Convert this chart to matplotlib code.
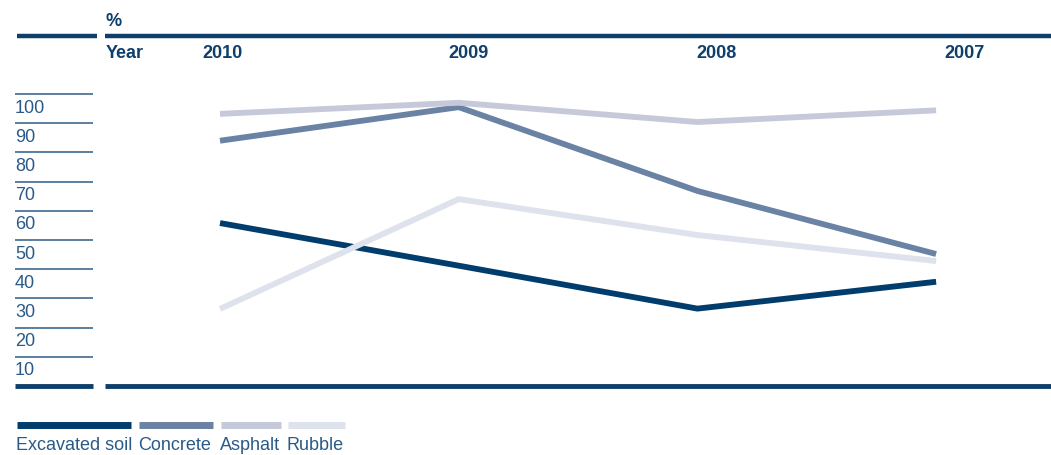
import matplotlib

matplotlib.use("Agg")
import matplotlib.pyplot as plt

# data
years = ["2010", "2009", "2008", "2007"]
excavated_soil = [55.8, 41.2, 26.5, 35.7]
concrete = [84.0, 95.5, 66.8, 45.2]
asphalt = [93.2, 97.0, 90.4, 94.4]
rubble = [26.4, 64.0, 51.7, 42.8]
y_ticks = [10, 20, 30, 40, 50, 60, 70, 80, 90, 100]

series = [
    ("Excavated soil", excavated_soil, "#003c6c"),
    ("Concrete", concrete, "#6a82a3"),
    ("Asphalt", asphalt, "#c5c9d9"),
    ("Rubble", rubble, "#dde2ec"),
]
NAVY = "#0e3f6b"
plt.rcParams["font.family"] = ["Liberation Sans", "DejaVu Sans"]

W, H = 1051, 456
fig = plt.figure(figsize=(W / 100, H / 100), dpi=100)


def fx(px):
    return px / W


def fy(px):
    return 1 - px / H


# main plot area: value 0 at y=387 px, 10 units = 29.2 px
y_bottom, y_top = 387, 60
ymax = (y_bottom - y_top) / 2.92
ax = fig.add_axes([fx(105), fy(y_bottom), fx(1051 - 105), (y_bottom - y_top) / H])
unit = 238.7
ax.set_xlim(-(220 - 105) / unit, (1051 - 220) / unit)
ax.set_ylim(0, ymax)
ax.axis("off")

x = list(range(len(years)))
for name, vals, color in series:
    ax.plot(x, vals, color=color, lw=4.2, solid_capstyle="butt", solid_joinstyle="miter")

# bottom thick rule
ax.axhline(0, color=NAVY, lw=3.5, clip_on=False, solid_capstyle="butt")

# left scale
sx = fig.add_axes([fx(15), fy(y_bottom), fx(93 - 15), (y_bottom - y_top) / H])
sx.set_xlim(0, 1)
sx.set_ylim(0, ymax)
sx.axis("off")
sx.axhline(0, color=NAVY, lw=3.5, clip_on=False, solid_capstyle="butt")
for v in y_ticks:
    sx.axhline(v, color="#2f5b86", lw=1.1, solid_capstyle="butt")
    sx.text(0, v - 1.6, str(v), ha="left", va="top", fontsize=13, color="#2a5a88")

# header
fig.add_artist(plt.Line2D([fx(17), fx(97)], [fy(37), fy(37)], color=NAVY, lw=3.2,
                          solid_capstyle="butt"))
fig.add_artist(plt.Line2D([fx(105), fx(1051)], [fy(37), fy(37)], color=NAVY, lw=3.2,
                          solid_capstyle="butt"))
fig.text(fx(106), fy(21), "%", ha="left", va="center", fontsize=13, fontweight="bold", color=NAVY)
fig.text(fx(106), fy(53), "Year", ha="left", va="center", fontsize=13, fontweight="bold", color=NAVY)
label_x = [0.01, 1.04, 2.08, 3.12]
for lx, yr in zip(label_x, years):
    fig.text(fx(220 + lx * unit), fy(53), yr, ha="center", va="center",
             fontsize=13, fontweight="bold", color=NAVY)

# legend
swatches = [(17, 131), (139, 213), (221, 281), (288, 345)]
for (x0, x1), (name, _, color) in zip(swatches, series):
    fig.add_artist(plt.Line2D([fx(x0), fx(x1)], [fy(426), fy(426)], color=color, lw=5,
                              solid_capstyle="butt"))
    fig.text(fx(x0 - 1), fy(446), name, ha="left", va="center", fontsize=13, color="#2a5a88")

fig.savefig("out.png", dpi=100)
